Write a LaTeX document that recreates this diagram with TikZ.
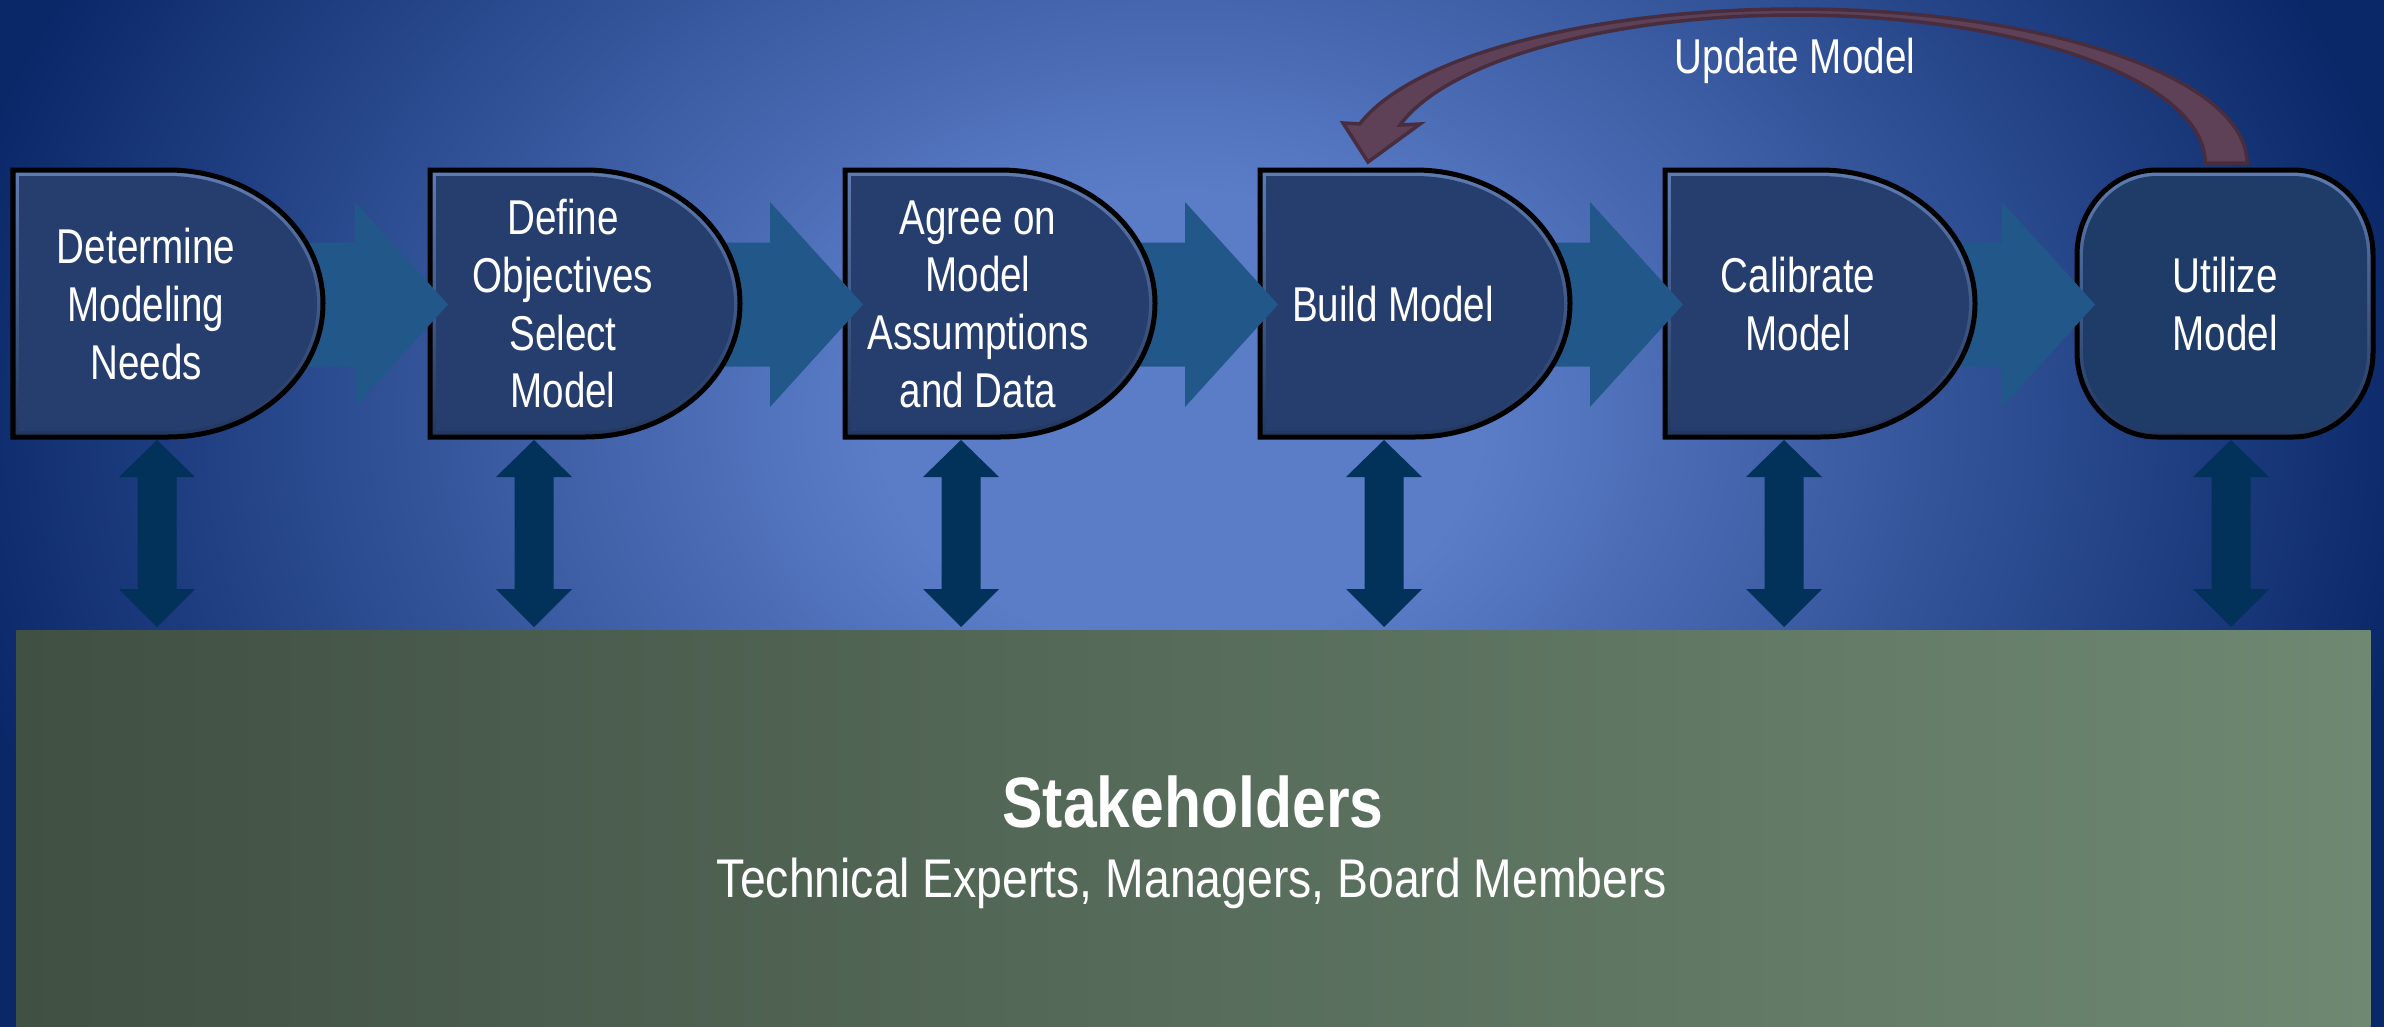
\documentclass[tikz,border=0pt]{standalone}
\usepackage{fontspec}
\setmainfont{Liberation Sans}[FakeStretch=0.79]
\newfontfamily\widefont{Liberation Sans}[FakeStretch=0.85]
\usetikzlibrary{calc}

\definecolor{bgdark}{HTML}{0A2868}
\definecolor{bglight}{HTML}{5B7DC8}
\definecolor{boxblue}{HTML}{263E6E}
\definecolor{utilblue}{HTML}{1F3C68}
\definecolor{bevtop}{HTML}{5E7CB2}
\definecolor{bevbot}{HTML}{22375F}
\definecolor{flowblue}{HTML}{22578A}
\definecolor{linkblue}{HTML}{02315A}
\definecolor{updfill}{HTML}{5E4156}
\definecolor{updedge}{HTML}{472D3E}
\definecolor{greenleft}{HTML}{405043}
\definecolor{greenright}{HTML}{6E8872}

\pgfdeclareradialshading{backglow}{\pgfpoint{0bp}{0bp}}{color(0bp)=(bglight); color(6bp)=(bglight); color(25bp)=(bgdark); color(50bp)=(bgdark)}

% outlines of the stage boxes, #1 = inset
\newcommand\dshape[1]{({#1},{-#1}) -- (155,{-#1}) arc[start angle=90,end angle=-90,x radius={155-#1},y radius={133.5-#1}] -- ({#1},{-267+#1}) -- cycle}
\newcommand\ushape[1]{(80,{-#1}) -- (216,{-#1}) arc[start angle=90,end angle=0,x radius={80-#1},y radius={85-#1}] -- ({296-#1},-182) arc[start angle=0,end angle=-90,x radius={80-#1},y radius={85-#1}] -- (80,{-267+#1}) arc[start angle=270,end angle=180,x radius={80-#1},y radius={85-#1}] -- ({#1},-85) arc[start angle=180,end angle=90,x radius={80-#1},y radius={85-#1}] -- cycle}
\newcommand\stagefont{\fontsize{13.9pt}{16.4pt}\selectfont}

\begin{document}
\begin{tikzpicture}[x=0.01cm,y=0.01cm,
    stagetext/.style={text=white,align=center,font=\stagefont,inner sep=0pt},
    stakebox/.style={left color=greenleft,right color=greenright,minimum width=23.53cm,
    minimum height=3.96cm,inner sep=0pt,outer sep=0pt},
    dbox/.pic={\shade[top color=bevtop,bottom color=bevbot] \dshape{0};
    \fill[boxblue] \dshape{6};
    \draw[line width=0.05cm] \dshape{0};},
    ubox/.pic={\shade[top color=bevtop,bottom color=bevbot] \ushape{0};
    \fill[utilblue] \ushape{6};
    \draw[line width=0.05cm] \ushape{0};},
    flowhead/.pic={\fill[flowblue] (-160,-72.5) -- (-75,-72.5) -- (-75,-32) -- (18,-134.5)
    -- (-75,-237) -- (-75,-196.5) -- (-160,-196.5) -- cycle;},
    linkarrow/.pic={\fill[linkblue] (0,0) -- (38,-37) -- (19.5,-37) -- (19.5,-149) -- (38,-149)
    -- (0,-187) -- (-38,-149) -- (-19.5,-149) -- (-19.5,-37) -- (-38,-37) -- cycle;}]

    \useasboundingbox (0,0) rectangle (2384,-1027);
    \fill[bgdark] (0,0) rectangle (2384,-1027);
    \begin{scope}
      \clip (0,0) rectangle (2384,-1027);
      \shade[shading=backglow] (1180,-420) ellipse[x radius=1250,y radius=950];
    \end{scope}

    \foreach \i/\x in {1/13,2/430,3/845,4/1260,5/1665,6/2077}
      \coordinate (b\i) at (\x,-170);

    % feedback arrow over the top
    \filldraw[fill=updfill,draw=updedge,line width=0.035cm] (2247,-163)
      arc[start angle=0,end angle=165.3,x radius=451,y radius=154]
      -- (1343,-123) -- (1368,-162) -- (1420,-124) -- (1400,-125)
      arc[start angle=165.1,end angle=0,x radius=409.5,y radius=148] -- cycle;
    \node[stagetext,anchor=base] (upd) at (1795,-73) {Update Model};

    % boxes right to left, so each arrow sits under its source box
    \pic at (b6) {ubox};
    \foreach \j/\i in {6/5,5/4,4/3,3/2,2/1}
    {
      \pic at (b\j) {flowhead};
      \pic at (b\i) {dbox};
    }

    \node[stagetext] (s1) at ($(b1)+(133,-134)$) {Determine\\Modeling\\Needs};
    \node[stagetext] (s2) at ($(b2)+(133,-134)$) {Define\\Objectives\\Select\\Model};
    \node[stagetext] (s3) at ($(b3)+(133,-134)$) {Agree on\\Model\\Assumptions\\and Data};
    \node[stagetext] (s4) at ($(b4)+(133,-134)$) {Build Model};
    \node[stagetext] (s5) at ($(b5)+(133,-134)$) {Calibrate\\Model};
    \node[stagetext] (s6) at ($(b6)+(148,-134)$) {Utilize\\Model};

    \node[stakebox] (stake) at (1193.5,-829) {};
    \foreach \x in {157,534,961,1384,1784,2231}
      \pic at (\x,-440) {linkarrow};

    \node[text=white,inner sep=0pt,anchor=base,font=\widefont\bfseries\fontsize{20.3pt}{24pt}\selectfont]
      (stakehead) at (1193,-827) {Stakeholders};
    \node[text=white,inner sep=0pt,anchor=base,font=\widefont\fontsize{15.5pt}{18pt}\selectfont]
      (stakelist) at (1192,-897) {Technical Experts, Managers, Board Members};
  \end{tikzpicture}
\end{document}
